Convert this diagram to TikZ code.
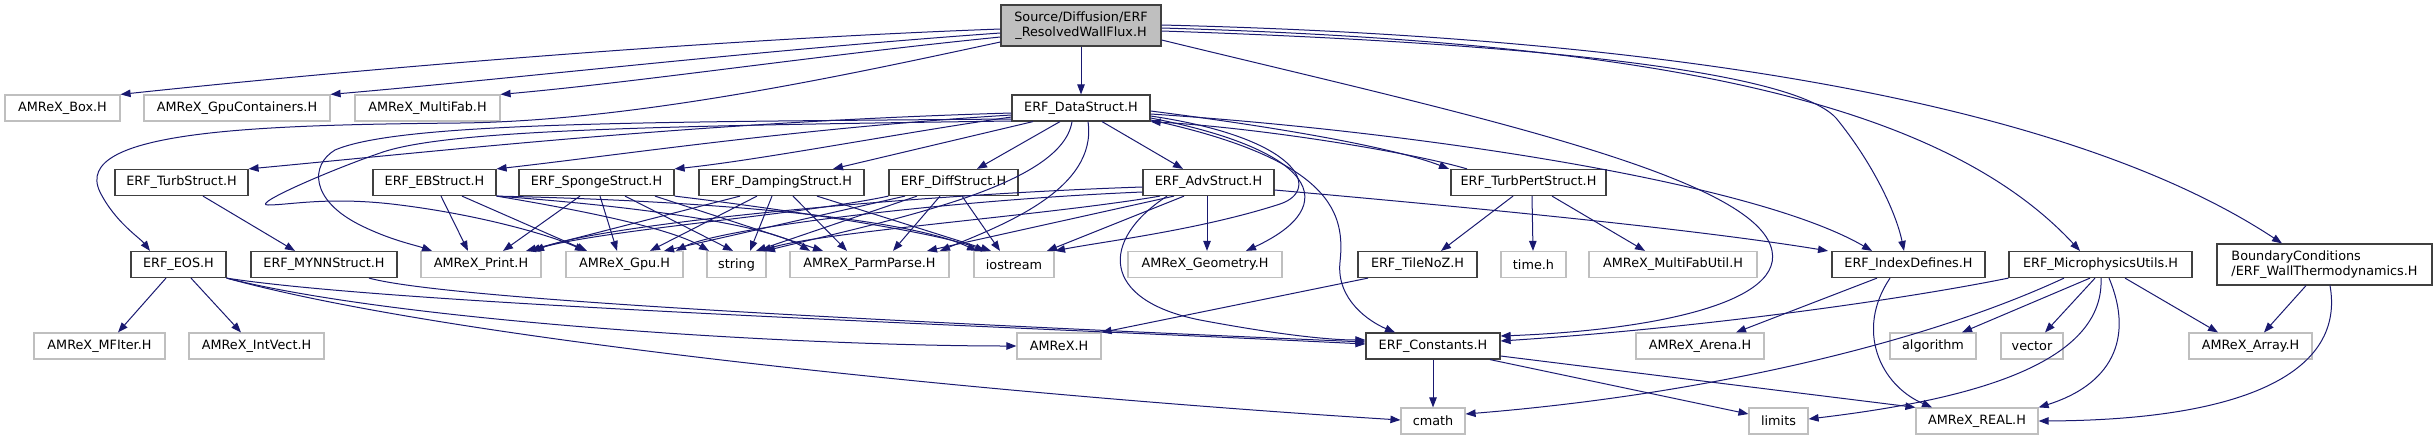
\documentclass[tikz,border=0pt]{standalone}
\usepackage{fontspec}
\setmainfont{DejaVu Sans}
\usetikzlibrary{arrows.meta,calc}
\definecolor{edgec}{RGB}{25,25,112}
\definecolor{dk}{RGB}{64,64,64}
\definecolor{lt}{RGB}{191,191,191}
\begin{document}
\begin{tikzpicture}[x=0.75pt,y=-0.75pt,
 base/.style={rectangle, inner sep=0pt, minimum height=19.5pt, font=\fontsize{9.6}{11.5}\selectfont, text=black},
 doc/.style={base, draw=dk, line width=0.9pt},
 ext/.style={base, draw=lt, line width=0.9pt},
 edg/.style={draw=edgec, line width=0.75pt, -{Triangle[length=7.5pt,width=5.6pt]}},
]
\useasboundingbox (0,0) rectangle (2436,440);
% nodes
\node[doc, fill=lt, minimum width=120pt, minimum height=30.75pt, align=center] (r) at (1081,25.5) {Source/Diffusion/ERF\\\_ResolvedWallFlux.H};
\node[ext, minimum width=86.25pt] (box) at (62.5,108) {AMReX\_Box.H};
\node[ext, minimum width=139.5pt] (gpuc) at (237,108) {AMReX\_GpuContainers.H};
\node[ext, minimum width=108.75pt] (mfab) at (427.5,108) {AMReX\_MultiFab.H};
\node[doc, minimum width=103.5pt] (d) at (1081,108) {ERF\_DataStruct.H};
\node[doc, minimum width=99.75pt] (turb) at (181.5,182.5) {ERF\_TurbStruct.H};
\node[doc, minimum width=92.25pt] (eb) at (434.5,182.5) {ERF\_EBStruct.H};
\node[doc, minimum width=116.25pt] (sponge) at (596.5,182.5) {ERF\_SpongeStruct.H};
\node[doc, minimum width=123.75pt] (damp) at (781.5,182.5) {ERF\_DampingStruct.H};
\node[doc, minimum width=96.75pt] (diff) at (953.5,182.5) {ERF\_DiffStruct.H};
\node[doc, minimum width=98.25pt] (adv) at (1208.5,182.5) {ERF\_AdvStruct.H};
\node[doc, minimum width=116.25pt] (tpert) at (1528.5,182.5) {ERF\_TurbPertStruct.H};
\node[doc, minimum width=71.25pt] (eos) at (178.5,264.5) {ERF\_EOS.H};
\node[doc, minimum width=109.5pt] (mynn) at (324,264.5) {ERF\_MYNNStruct.H};
\node[ext, minimum width=90pt] (print) at (481,264.5) {AMReX\_Print.H};
\node[ext, minimum width=87.75pt] (gpu) at (624.5,264.5) {AMReX\_Gpu.H};
\node[ext, minimum width=44.25pt] (str) at (736.5,264.5) {string};
\node[ext, minimum width=119.25pt] (pp) at (869.5,264.5) {AMReX\_ParmParse.H};
\node[ext, minimum width=60pt] (io) at (1014,264.5) {iostream};
\node[ext, minimum width=115.5pt] (geo) at (1205,264.5) {AMReX\_Geometry.H};
\node[doc, minimum width=89.25pt] (tile) at (1417.5,264.5) {ERF\_TileNoZ.H};
\node[ext, minimum width=48.75pt] (timeh) at (1533.5,264.5) {time.h};
\node[ext, minimum width=126pt] (mfu) at (1673,264.5) {AMReX\_MultiFabUtil.H};
\node[doc, minimum width=114.75pt] (idx) at (1908.5,264.5) {ERF\_IndexDefines.H};
\node[doc, minimum width=137.25pt] (micro) at (2100.5,264.5) {ERF\_MicrophysicsUtils.H};
\node[doc, minimum width=161.25pt, minimum height=30.75pt, align=left] (wall) at (2324.5,264.5) {BoundaryConditions\\/ERF\_WallThermodynamics.H};
\node[ext, minimum width=98.25pt] (mfiter) at (99.5,346) {AMReX\_MFIter.H};
\node[ext, minimum width=101.25pt] (ivect) at (256.5,346) {AMReX\_IntVect.H};
\node[ext, minimum width=63pt] (amrex) at (1059,346) {AMReX.H};
\node[doc, minimum width=100.5pt] (cons) at (1433,346) {ERF\_Constants.H};
\node[ext, minimum width=96pt] (arena) at (1700,346) {AMReX\_Arena.H};
\node[ext, minimum width=64.5pt] (alg) at (1933,346) {algorithm};
\node[ext, minimum width=46.5pt] (vec) at (2032,346) {vector};
\node[ext, minimum width=92.25pt] (arr) at (2250.5,346) {AMReX\_Array.H};
\node[ext, minimum width=48pt] (cmath) at (1433,421) {cmath};
\node[ext, minimum width=44.25pt] (limits) at (1778.5,421) {limits};
\node[ext, minimum width=91.5pt] (real) at (1977,421) {AMReX\_REAL.H};
% R edges
\draw[edg] (r.west |- 0,29) .. controls (700,40) and (350,70) .. (box.north east);
\draw[edg] (r.west |- 0,33) .. controls (760,50) and (520,78) .. (gpuc.north east);
\draw[edg] (r.west |- 0,37) .. controls (820,55) and (640,82) .. (mfab.north east);
\draw[edg] (r.west |- 0,42) .. controls (860,72) and (640,121) .. (460,123) .. controls (260,125) and (70,130) .. (100,192) .. controls (115,222) and (140,238) .. (150,0 |- eos.north);
\draw[edg] (r) -- (d);
\draw[edg] (r.east |- 0,40) .. controls (1450,110) and (1730,170) .. (1768,240) .. controls (1800,300) and (1660,330) .. (cons.east |- 0,336);
\draw[edg] (r.east |- 0,31) .. controls (1500,42) and (1790,68) .. (1836,118) .. controls (1872,162) and (1896,212) .. (1904,0 |- idx.north);
\draw[edg] (r.east |- 0,28) .. controls (1650,42) and (1940,100) .. (2080,0 |- micro.north);
\draw[edg] (r.east |- 0,25) .. controls (1700,38) and (2080,110) .. (2282,0 |- wall.north);
% D edges
\draw[edg] (d.west |- 0,113) .. controls (700,122) and (450,150) .. (turb.north east);
\draw[edg] (d.west |- 0,115) .. controls (800,128) and (620,155) .. (eb.north east);
\draw[edg] (d.west |- 0,117) .. controls (900,133) and (760,160) .. (sponge.north east);
\draw[edg] (1033,0 |- d.south) -- (833,0 |- damp.north);
\draw[edg] (1060,0 |- d.south) -- (977,0 |- diff.north);
\draw[edg] (1102,0 |- d.south) -- (1183,0 |- adv.north);
\draw[edg] (d.east |- 0,111) .. controls (1300,130) and (1400,150) .. (1449,0 |- tpert.north);
\draw[edg] (1467,0 |- tpert.north) .. controls (1410,152) and (1260,128) .. (d.south east);
\draw[edg] (d.east |- 0,114) .. controls (1400,130) and (1750,180) .. (1872,0 |- idx.north);
\draw[edg] (d.east |- 0,116) .. controls (1300,138) and (1322,190) .. (1280,204) .. controls (1200,230) and (1100,242) .. (1055,0 |- io.north);
\draw[edg] (d.east |- 0,118) .. controls (1315,150) and (1345,205) .. (1246,0 |- geo.north);
\draw[edg] (d.east |- 0,120) .. controls (1335,160) and (1345,215) .. (1340,262) .. controls (1336,300) and (1370,322) .. (1395,0 |- cons.north);
\draw[edg] (1072,0 |- d.south) .. controls (1062,185) and (900,218) .. (765,0 |- str.north);
\draw[edg] (1088,0 |- d.south) .. controls (1098,190) and (1000,226) .. (940,0 |- pp.north);
\draw[edg] (d.west |- 0,119) .. controls (650,122) and (400,122) .. (335,150) .. controls (310,165) and (310,200) .. (360,225) .. controls (390,240) and (415,245) .. (432,0 |- print.north);
\draw[edg] (d.west |- 0,121) .. controls (650,126) and (450,130) .. (383,152) .. controls (330,170) and (250,205) .. (268,205) .. controls (290,205) and (330,196) .. (400,205) .. controls (480,215) and (550,235) .. (585,0 |- gpu.north);
% TurbStruct
\draw[edg] (203,0 |- turb.south) -- (295,0 |- mynn.north);
% EBStruct
\draw[edg] (441,0 |- eb.south) -- (468,0 |- print.north);
\draw[edg] (462,0 |- eb.south) -- (587,0 |- gpu.north);
\draw[edg] (eb.south east) .. controls (580,210) and (670,228) .. (709,0 |- str.north);
\draw[edg] (eb.south east) .. controls (620,205) and (760,222) .. (810,0 |- pp.north);
\draw[edg] (eb.south east) .. controls (680,200) and (900,215) .. (977,0 |- io.north);
% SpongeStruct
\draw[edg] (580,0 |- sponge.south) -- (503,0 |- print.north);
\draw[edg] (600,0 |- sponge.south) -- (617,0 |- gpu.north);
\draw[edg] (625,0 |- sponge.south) -- (733,0 |- str.north);
\draw[edg] (655,0 |- sponge.south) -- (823,0 |- pp.north);
\draw[edg] (sponge.south east) .. controls (750,205) and (930,230) .. (985,0 |- io.north);
% DampingStruct
\draw[edg] (740,0 |- damp.south) -- (526,0 |- print.north);
\draw[edg] (757,0 |- damp.south) -- (650,0 |- gpu.north);
\draw[edg] (772,0 |- damp.south) -- (750,0 |- str.north);
\draw[edg] (793,0 |- damp.south) -- (847,0 |- pp.north);
\draw[edg] (817,0 |- damp.south) -- (991,0 |- io.north);
% DiffStruct
\draw[edg] (diff.south west) .. controls (800,215) and (600,230) .. (530,0 |- print.north);
\draw[edg] (905,0 |- diff.south) -- (664,0 |- gpu.north);
\draw[edg] (917,0 |- diff.south) -- (756,0 |- str.north);
\draw[edg] (940,0 |- diff.south) -- (893,0 |- pp.north);
\draw[edg] (962,0 |- diff.south) -- (1000,0 |- io.north);
% AdvStruct
\draw[edg] (adv.west |- 0,187) .. controls (900,195) and (600,225) .. (534,0 |- print.north);
\draw[edg] (adv.west |- 0,192) .. controls (950,200) and (720,228) .. (676,0 |- gpu.north);
\draw[edg] (1160,0 |- adv.south) .. controls (1050,215) and (820,232) .. (761,0 |- str.north);
\draw[edg] (1174,0 |- adv.south) -- (927,0 |- pp.north);
\draw[edg] (1184,0 |- adv.south) -- (1047,0 |- io.north);
\draw[edg] (1207,0 |- adv.south) -- (1207,0 |- geo.north);
\draw[edg] (adv.east |- 0,190) .. controls (1500,210) and (1700,230) .. (1828,0 |- idx.north);
\draw[edg] (1167,0 |- adv.south) .. controls (1100,240) and (1100,300) .. (1200,320) .. controls (1280,335) and (1330,340) .. (cons.west |- 0,340);
% TurbPertStruct
\draw[edg] (1513,0 |- tpert.south) -- (1441,0 |- tile.north);
\draw[edg] (1532,0 |- tpert.south) -- (1533,0 |- timeh.north);
\draw[edg] (1552,0 |- tpert.south) -- (1645,0 |- mfu.north);
% TileNoZ
\draw[edg] (1368,0 |- tile.south) -- (amrex.north east);
% MYNN
\draw[edg] (369,0 |- mynn.south) .. controls (450,300) and (900,322) .. (cons.west |- 0,342);
% EOS
\draw[edg] (166,0 |- eos.south) -- (118,0 |- mfiter.north);
\draw[edg] (191,0 |- eos.south) -- (241,0 |- ivect.north);
\draw[edg] (eos.south east) .. controls (400,305) and (1000,326) .. (cons.west |- 0,344);
\draw[edg] (eos.south east) .. controls (400,322) and (800,346) .. (amrex.west);
\draw[edg] (eos.south east) .. controls (450,340) and (1000,395) .. (cmath.west |- 0,420);
% Constants
\draw[edg] (cons) -- (cmath);
\draw[edg] (1490,0 |- cons.south) -- (limits.west |- 0,414);
\draw[edg] (cons.east |- 0,356) -- (real.north west);
% IndexDefines
\draw[edg] (1877,0 |- idx.south) -- (1736,0 |- arena.north);
\draw[edg] (1890,0 |- idx.south) .. controls (1855,330) and (1880,385) .. (1932,0 |- real.north);
% Microphysics
\draw[edg] (micro.south west) .. controls (1900,300) and (1700,328) .. (cons.east |- 0,341);
\draw[edg] (2064,0 |- micro.south) .. controls (1920,345) and (1700,395) .. (cmath.east |- 0,414);
\draw[edg] (2101,0 |- micro.south) .. controls (2105,370) and (1950,402) .. (limits.east |- 0,419);
\draw[edg] (2109,0 |- micro.south) .. controls (2135,340) and (2110,385) .. (real.north east);
\draw[edg] (2090,0 |- micro.south) -- (1962,0 |- alg.north);
\draw[edg] (2095,0 |- micro.south) -- (2045,0 |- vec.north);
\draw[edg] (2125,0 |- micro.south) -- (2218,0 |- arr.north);
% WallThermodynamics
\draw[edg] (2306,0 |- wall.south) -- (2264,0 |- arr.north);
\draw[edg] (2330,0 |- wall.south) .. controls (2345,370) and (2250,420) .. (real.east);
\end{tikzpicture}
\end{document}
